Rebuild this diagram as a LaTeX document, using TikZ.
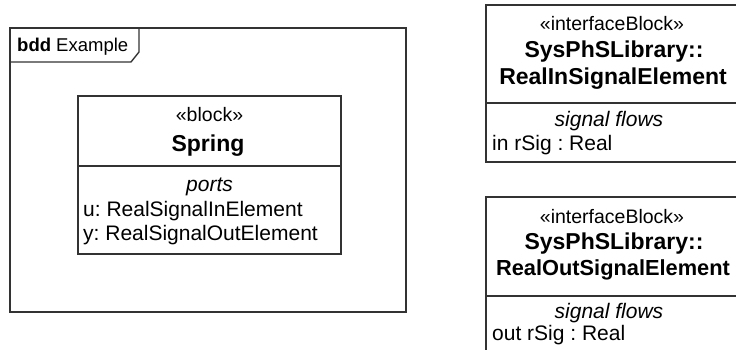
\documentclass[tikz,border=0pt]{standalone}
\usepackage{fontspec}
\setmainfont{Liberation Sans}
\frenchspacing
\begin{document}
\begin{tikzpicture}[x=1pt,y=-1pt,
  line/.style={draw=black!80,line width=1.4pt},
  bodyw/.style={anchor=base west,inner sep=0pt,font=\fontsize{21}{24}\selectfont},
  stereo/.style={anchor=base,inner sep=0pt,font=\fontsize{19.5}{22}\selectfont},
  title/.style={anchor=base,inner sep=0pt,font=\fontsize{23}{26}\selectfont\bfseries},
  comp/.style={anchor=base,inner sep=0pt,font=\fontsize{21}{24}\selectfont\itshape},
  tab/.style={anchor=base west,inner sep=0pt,font=\fontsize{18.5}{22}\selectfont}]
\useasboundingbox (0,0) rectangle (736,350);
\clip (0,0) rectangle (736,350);
% frame
\draw[line] (10,28) rectangle (406,312);
\draw[line] (10,62) -- (131,62) -- (139,52) -- (139,28);
\node[tab] (frametitle) at (17,52) {\textbf{bdd} Example};
% Spring block
\draw[line] (78,96) rectangle (341,254);
\draw[line] (78,166) -- (341,166);
\node[stereo] (sst) at (209.5,122) {«block»};
\node[title] (sname) at (208,152) {Spring};
\node[comp] (sports) at (209.5,191) {ports};
\node[bodyw] (su) at (83,216) {u: RealSignalInElement};
\node[bodyw] (sy) at (83,240) {y: RealSignalOutElement};
% interface block 1
\draw[line] (745,5) -- (486,5) -- (486,162) -- (745,162);
\draw[line] (486,103) -- (745,103);
\node[stereo] (ast) at (612,31) {«interfaceBlock»};
\node[title] (an1) at (614,58) {SysPhSLibrary::};
\node[title] (an2) at (613,85) {RealInSignalElement};
\node[comp] (acomp) at (609,127) {signal flows};
\node[bodyw] (ain) at (492,150) {in rSig : Real};
% interface block 2
\draw[line] (745,197) -- (486,197) -- (486,360);
\draw[line] (486,296) -- (745,296);
\node[stereo] (bst) at (612,223) {«interfaceBlock»};
\node[title] (bn1) at (614,249) {SysPhSLibrary::};
\node[title,font=\fontsize{21.8}{26}\selectfont\bfseries] (bn2) at (613,275) {RealOutSignalElement};
\node[comp] (bcomp) at (609,318) {signal flows};
\node[bodyw] (bout) at (492,340) {out rSig : Real};
\end{tikzpicture}
\end{document}
